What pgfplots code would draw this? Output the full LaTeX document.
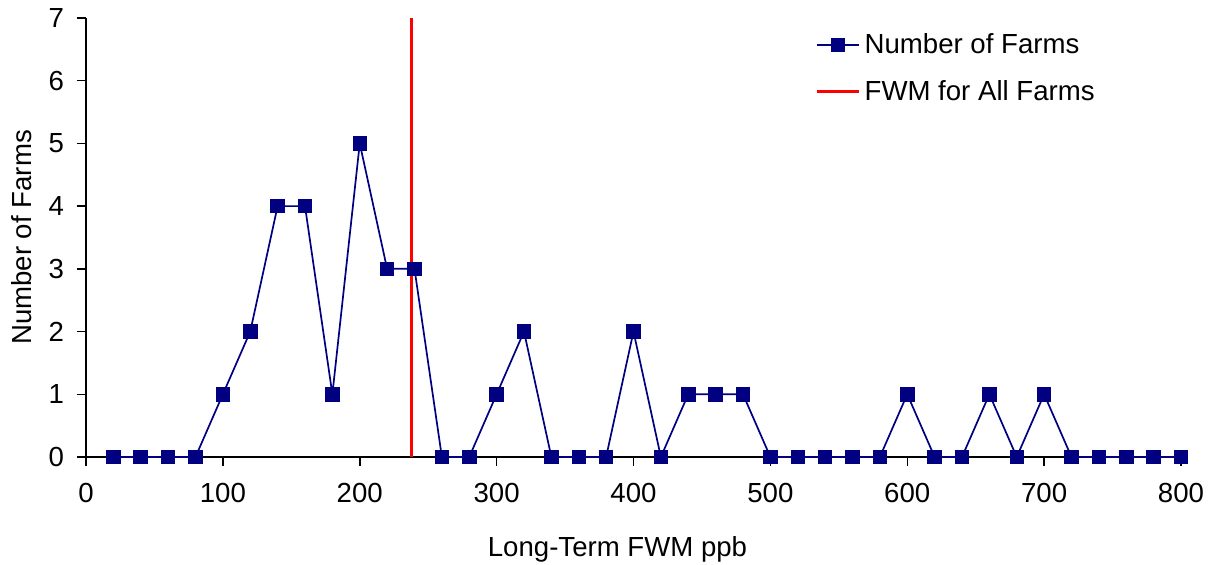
\documentclass[border=0pt]{standalone}
\usepackage{pgfplots}
\pgfplotsset{compat=1.18}
\usepackage{fontspec}
\setmainfont{Liberation Sans}
\definecolor{navyc}{RGB}{0,0,128}
\begin{document}
\begin{tikzpicture}
\begin{axis}[
  name=ax,
  scale only axis,
  width=547.5pt, height=219.5pt,
  xmin=0, xmax=800, ymin=0, ymax=7,
  xtick={0,100,...,800}, ytick={0,1,...,7},
  axis x line*=bottom, axis y line*=left,
  axis line style={line width=0.75pt, -},
  tick style={black, line width=0.75pt},
  tick align=outside,
  major tick length=4.5pt,
  font=\fontsize{13.8pt}{16pt}\selectfont,
  /pgf/number format/assume math mode=true,
  xticklabel style={yshift=-5pt},
  yticklabel style={xshift=-3pt},
  xlabel={Long-Term FWM ppb},
  ylabel={Number of Farms},
  xlabel style={at={(axis description cs:0.5,0)}, anchor=center, yshift=-46pt, xshift=-8pt},
  ylabel style={at={(axis description cs:0,0.5)}, anchor=center, yshift=32pt},
  legend style={draw=none, fill=none, at={(rel axis cs:0.666,0.975)}, anchor=north west,
    row sep=8pt, font=\fontsize{13.8pt}{16pt}\selectfont, inner sep=0pt},
  legend cell align=left,
  legend image code/.code={\draw[#1] (0pt,0pt) -- (21pt,0pt) plot coordinates {(10.5pt,0pt)};},
  clip=false,
]
\addplot[color=navyc, line width=0.85pt, mark=square*, mark size=3.2pt, mark options={solid, fill=navyc}]
coordinates {
(20,0)(40,0)(60,0)(80,0)(100,1)(120,2)(140,4)(160,4)(180,1)(200,5)
(220,3)(240,3)(260,0)(280,0)(300,1)(320,2)(340,0)(360,0)(380,0)(400,2)
(420,0)(440,1)(460,1)(480,1)(500,0)(520,0)(540,0)(560,0)(580,0)(600,1)
(620,0)(640,0)(660,1)(680,0)(700,1)(720,0)(740,0)(760,0)(780,0)(800,0)
};
\addlegendentry{Number of Farms}
\addplot[color=red, line width=1.5pt, no marks] coordinates {(238,0)(238,7)};
\addlegendentry{FWM for All Farms}
\end{axis}
\pgfresetboundingbox
\path[use as bounding box] ([xshift=-43pt,yshift=-54pt]ax.south west) rectangle ([xshift=14.5pt,yshift=9pt]ax.north east);
\end{tikzpicture}
\end{document}
